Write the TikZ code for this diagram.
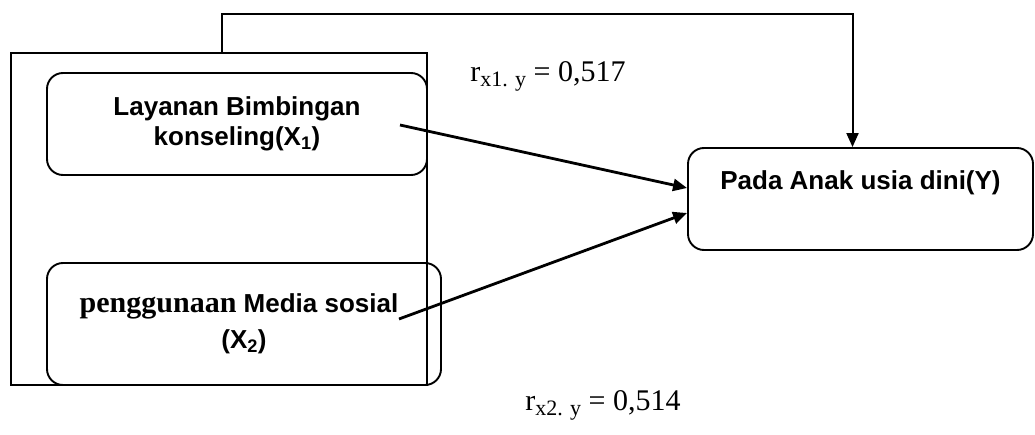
\documentclass[tikz,border=0pt]{standalone}
\usepackage{fontspec}
\setmainfont{Liberation Sans}
\newfontfamily\timesfont{Liberation Serif}
\usetikzlibrary{arrows.meta}

% correlation label: r with the lowered index, then the value
\newcommand{\coefr}[2]{r\raisebox{-5pt}{\fontsize{22}{22}\selectfont x#1. y} = #2}

\begin{document}
\begin{tikzpicture}[x=1pt,y=-1pt,>={Triangle[length=14pt,width=12pt]}]
  \tikzset{
    frame/.style={draw,line width=1.9pt,minimum width=416pt,minimum height=332pt,inner sep=0pt},
    var/.style={draw,line width=1.9pt,rounded corners=16pt,align=center,inner sep=0pt,font=\fontsize{26}{30}\selectfont\bfseries},
    coef/.style={font=\timesfont\fontsize{30}{32}\selectfont},
    link/.style={->,line width=2.8pt}
  }
  \useasboundingbox (0,0) rectangle (1035,435);
  \node[frame] (outer) at (219,219) {};
  \node[var,minimum width=380pt,minimum height=102pt] (x1) at (237,124) {Layanan Bimbingan\\konseling(X\textsubscript{1})};
  \node[var,minimum width=394pt,minimum height=122pt] (x2) at (244,324) {{\timesfont\bfseries\fontsize{30}{30}\selectfont penggunaan} Media sosial\hspace*{10pt}\\[6pt](X\textsubscript{2})};
  \node[var,minimum width=345pt,minimum height=102pt] (yb) at (860.5,199) {Pada Anak usia dini(Y)\\[8pt]\mbox{}};
  \node[coef] (r1) at (548,76) {\coefr{1}{0,517}};
  \node[coef] (r2) at (603,405) {\coefr{2}{0,514}};
  % arrows into Y
  \coordinate (x1out) at (400,125);
  \coordinate (x2out) at (399,319);
  \coordinate (loop) at (222,14);
  \draw[link] (x1out) -- ([yshift=11pt]yb.west);
  \draw[link] (x2out) -- ([yshift=-14pt]yb.west);
  \draw[link,line width=2pt] ([xshift=3pt]outer.north) |- (loop) -| ([xshift=-8pt]yb.north);
\end{tikzpicture}
\end{document}
